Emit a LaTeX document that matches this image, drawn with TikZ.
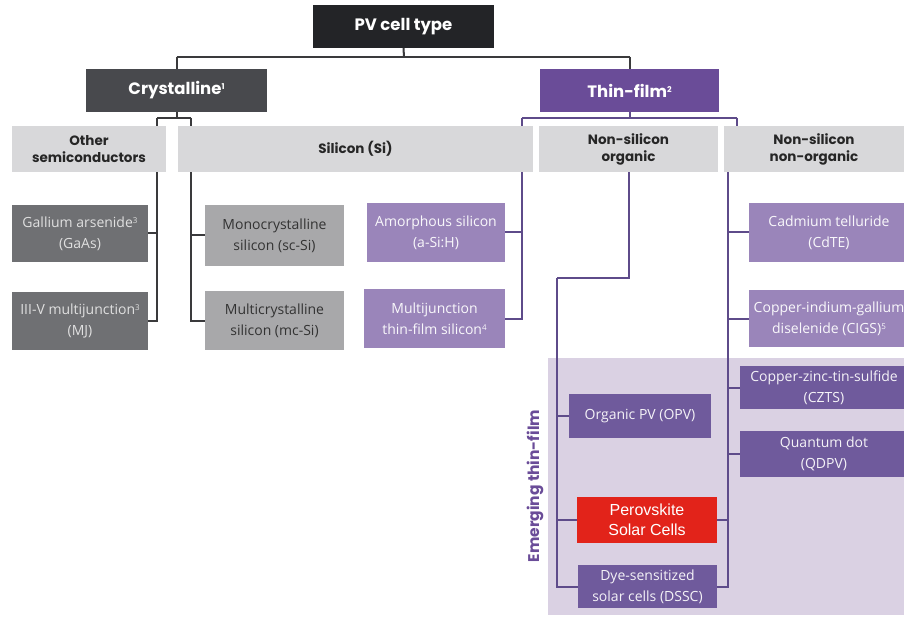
\documentclass[tikz,border=0pt]{standalone}
\usepackage{fontspec}
\setmainfont{Open Sans}
\newfontfamily\headfont{Poppins}
\newfontfamily\arialfont{Liberation Sans}
\newcommand\supsc[1]{\raisebox{0.55ex}{\fontsize{8}{8}\selectfont #1}}
\definecolor{pvc}{HTML}{232427}
\definecolor{cryc}{HTML}{48494D}
\definecolor{thinc}{HTML}{6A4C98}
\definecolor{lgray}{HTML}{D8D8DA}
\definecolor{dgray}{HTML}{6F7073}
\definecolor{mgray}{HTML}{A8A8AA}
\definecolor{lpurp}{HTML}{9A85BA}
\definecolor{dpurp}{HTML}{6F5A9C}
\definecolor{emgc}{HTML}{DAD1E3}
\definecolor{peroc}{HTML}{E2231A}
\definecolor{glinec}{HTML}{3A3A3C}
\definecolor{plinec}{HTML}{5E4B8A}
\pgfdeclarelayer{bg}
\pgfdeclarelayer{lines}
\pgfsetlayers{bg,lines,main}
\tikzset{
  box/.style={inner sep=0pt, align=center, font=\fontsize{14}{21}\selectfont},
  head/.style={inner sep=0pt, align=center, font=\headfont\bfseries\fontsize{13.5}{17}\selectfont},
  bighead/.style={head, font=\headfont\bfseries\fontsize{16.5}{20}\selectfont},
  gline/.style={draw=glinec, line width=2pt},
  pline/.style={draw=plinec, line width=2pt},
}
\begin{document}
\begin{tikzpicture}[x=1pt,y=-1pt]
\useasboundingbox (0,0) rectangle (904,617);
\begin{pgfonlayer}{bg}
\fill[white] (0,0) rectangle (904,617);
\node[fill=emgc, minimum width=356pt, minimum height=257pt, inner sep=0pt] (emg) at (726,486.5) {};
\end{pgfonlayer}
% level 0/1
\node[bighead, fill=pvc, text=white, minimum width=181pt, minimum height=43pt] (pv) at (403.5,26.5) {PV cell type};
\node[bighead, fill=cryc, text=white, minimum width=181pt, minimum height=43pt] (cry) at (176.5,90.5) {Crystalline\supsc{1}};
\node[bighead, fill=thinc, text=white, minimum width=179pt, minimum height=43pt] (thin) at (629.5,90.5) {Thin-film\supsc{2}};
% level 2
\node[head, fill=lgray, text=black!85, minimum width=154pt, minimum height=46pt] (oth) at (89,149) {Other\\semiconductors};
\node[head, fill=lgray, text=black!85, minimum width=355pt, minimum height=46pt] (si) at (355.5,149) {Silicon (Si)};
\node[head, fill=lgray, text=black!85, minimum width=179pt, minimum height=46pt] (nso) at (628.5,149) {Non-silicon\\organic};
\node[head, fill=lgray, text=black!85, minimum width=180pt, minimum height=46pt] (nsn) at (814,149) {Non-silicon\\non-organic};
% level 3
\node[box, fill=dgray, text=white!88!black, minimum width=136pt, minimum height=57pt] (ga) at (80,233.5) {Gallium arsenide\supsc{3}\\(GaAs)};
\node[box, fill=dgray, text=white!88!black, minimum width=136pt, minimum height=58pt] (mj) at (80,321) {III-V multijunction\supsc{3}\\(MJ)};
\node[box, fill=mgray, text=black!80, minimum width=139pt, minimum height=61pt] (sc) at (274.5,235.5) {Monocrystalline\\silicon (sc-Si)};
\node[box, fill=mgray, text=black!80, minimum width=139pt, minimum height=59pt] (mc) at (274.5,320.5) {Multicrystalline\\silicon (mc-Si)};
\node[box, fill=lpurp, text=white!94!lpurp, minimum width=138pt, minimum height=59pt] (asi) at (436,232.5) {Amorphous silicon\\(a-Si:H)};
\node[box, fill=lpurp, text=white!94!lpurp, minimum width=141pt, minimum height=59pt] (mjs) at (434.5,318.5) {Multijunction\\thin-film silicon\supsc{4}};
\node[box, fill=lpurp, text=white!94!lpurp, minimum width=160pt, minimum height=59pt] (cdte) at (829,232.5) {Cadmium telluride\\(CdTE)};
\node[box, fill=lpurp, text=white!94!lpurp, minimum width=160pt, minimum height=57pt] (cigs) at (829,318.5) {Copper-indium-gallium\\diselenide (CIGS)\supsc{5}};
% emerging
\node[box, fill=dpurp, text=white!92!dpurp, minimum width=168pt, minimum height=43pt] (czts) at (824,387.5) {Copper-zinc-tin-sulfide\\(CZTS)};
\node[box, fill=dpurp, text=white!92!dpurp, minimum width=168pt, minimum height=46pt] (qd) at (824,454) {Quantum dot\\(QDPV)};
\node[box, fill=dpurp, text=white!92!dpurp, minimum width=142pt, minimum height=44pt] (opv) at (640,416) {Organic PV (OPV)};
\node[box, fill=peroc, text=white, font=\arialfont\fontsize{16}{20}\selectfont, minimum width=140pt, minimum height=46pt] (pero) at (647,520) {Perovskite\\Solar Cells};
\node[box, fill=dpurp, text=white!92!dpurp, minimum width=139pt, minimum height=43pt] (dssc) at (647.5,586.5) {Dye-sensitized\\solar cells (DSSC)};
\node[head, text=thinc, rotate=90, font=\headfont\bfseries\fontsize{15.5}{18}\selectfont] (emlbl) at (535,486) {Emerging thin-film};
% connectors
\coordinate (top) at (404,57);
\coordinate (cL) at (157,118);
\coordinate (cR) at (191,118);
\coordinate (tL) at (522,118);
\coordinate (tR) at (737,118);
\coordinate (oB) at (557,278);
\coordinate (nR) at (728,172);
\begin{pgfonlayer}{lines}
\draw[gline] (pv.south) -- (top);
\draw[gline] (top -| cry.north) -- (top -| thin.north);
\draw[gline] (top -| cry.north) -- (cry.north);
\draw[gline] (top -| thin.north) -- (thin.north);
\draw[gline] (cry.south) -- (cry.south |- cL);
\draw[gline] (cL) -- (cR);
\draw[gline] (cL) |- (mj.east);
\draw[gline] (cL |- ga.east) -- (ga.east);
\draw[gline] (cR) |- (mc.west);
\draw[gline] (cR |- sc.west) -- (sc.west);
\draw[pline] (thin.south) -- (thin.south |- tL);
\draw[pline] (tL) -- (tR);
\draw[pline] (tR) -- (tR |- nsn.center);
\draw[pline] (tL) |- (mjs.east);
\draw[pline] (tL |- asi.east) -- (asi.east);
\draw[pline] (nso.south) |- (oB);
\draw[pline] (oB) |- (dssc.west);
\draw[pline] (oB |- opv.west) -- (opv.west);
\draw[pline] (oB |- pero.west) -- (pero.west);
\draw[pline] (nR) |- (dssc.east);
\draw[pline] (nR |- cdte.west) -- (cdte.west);
\draw[pline] (nR |- cigs.west) -- (cigs.west);
\draw[pline] (nR |- czts.west) -- (czts.west);
\draw[pline] (nR |- qd.west) -- (qd.west);
\draw[pline] (pero.east) -- (pero.east -| nR);
\end{pgfonlayer}
\end{tikzpicture}
\end{document}
